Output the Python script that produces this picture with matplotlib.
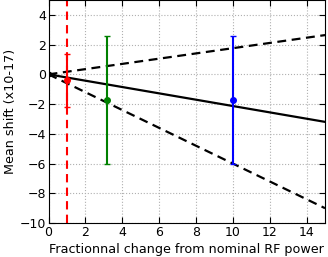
import matplotlib
matplotlib.use("Agg")
import matplotlib.pyplot as plt
import numpy as np

# measured shifts
power = [1, 3.15, 10]
shift = [-0.4, -1.75, -1.75]
err = [1.8, 4.3, 4.3]
colors = ["red", "green", "blue"]

# linear fits through origin
slope_fit = -0.213
slope_hi = 0.176
slope_lo = -0.60
x_fit = np.array([0, 15])

fig = plt.figure(figsize=(3.28, 2.57), dpi=100)
ax = fig.add_axes([0.148, 0.132, 0.843, 0.868])

ax.plot(x_fit, slope_fit * x_fit, "k-", lw=1.6)
ax.plot(x_fit, slope_hi * x_fit, "k--", lw=1.6, dashes=(4, 2.5))
ax.plot(x_fit, slope_lo * x_fit, "k--", lw=1.6, dashes=(4, 2.5))
ax.plot([0], [0], "ko", ms=3)

ax.axvline(1, color="red", ls="--", lw=1.5, dashes=(4, 2.5))
for x, y, e, c in zip(power, shift, err, colors):
    ax.errorbar(x, y, yerr=e, fmt="o", color=c, ms=4, lw=1.5, capsize=2)

ax.set_xlim(0, 15)
ax.set_ylim(-10, 5)
ax.set_xticks([0, 2, 4, 6, 8, 10, 12, 14])
ax.set_yticks([-10, -8, -6, -4, -2, 0, 2, 4])
ax.grid(True, ls=":", color="#b0b0b0", lw=0.8)
ax.tick_params(labelsize=9, direction="in", length=4, top=True, right=True, pad=2)
ax.set_xlabel("Fractionnal change from nominal RF power", fontsize=9.2, labelpad=3)
ax.set_ylabel("Mean shift (x10-17)", fontsize=9.2, labelpad=2)

fig.savefig("out.png", dpi=100)
